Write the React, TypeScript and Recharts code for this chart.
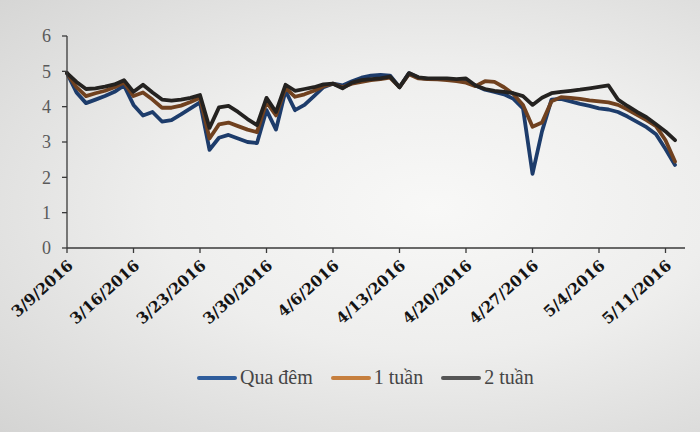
import * as React from "react";
import { Legend, Line, LineChart, XAxis, YAxis } from "recharts";

// daily points, 3/9/2016 .. 5/12/2016
const dates = [
  "3/9/2016", "3/10/2016", "3/11/2016", "3/12/2016", "3/13/2016", "3/14/2016", "3/15/2016",
  "3/16/2016", "3/17/2016", "3/18/2016", "3/19/2016", "3/20/2016", "3/21/2016", "3/22/2016",
  "3/23/2016", "3/24/2016", "3/25/2016", "3/26/2016", "3/27/2016", "3/28/2016", "3/29/2016",
  "3/30/2016", "3/31/2016", "4/1/2016", "4/2/2016", "4/3/2016", "4/4/2016", "4/5/2016",
  "4/6/2016", "4/7/2016", "4/8/2016", "4/9/2016", "4/10/2016", "4/11/2016", "4/12/2016",
  "4/13/2016", "4/14/2016", "4/15/2016", "4/16/2016", "4/17/2016", "4/18/2016", "4/19/2016",
  "4/20/2016", "4/21/2016", "4/22/2016", "4/23/2016", "4/24/2016", "4/25/2016", "4/26/2016",
  "4/27/2016", "4/28/2016", "4/29/2016", "4/30/2016", "5/1/2016", "5/2/2016", "5/3/2016",
  "5/4/2016", "5/5/2016", "5/6/2016", "5/7/2016", "5/8/2016", "5/9/2016", "5/10/2016",
  "5/11/2016", "5/12/2016",
];

const quaDem = [
  4.95, 4.4, 4.1, 4.2, 4.3, 4.42, 4.6,
  4.05, 3.75, 3.85, 3.58, 3.62, 3.78, 3.95,
  4.12, 2.78, 3.12, 3.2, 3.1, 3.0, 2.97,
  3.9, 3.35, 4.45, 3.9, 4.05, 4.3, 4.55,
  4.65, 4.6, 4.72, 4.82, 4.88, 4.9, 4.88,
  4.55, 4.95, 4.82, 4.78, 4.78, 4.78, 4.75,
  4.72, 4.6, 4.48, 4.42, 4.35, 4.22, 3.95,
  2.1, 3.3, 4.2, 4.22, 4.15, 4.08, 4.02,
  3.95, 3.92, 3.85, 3.72, 3.57, 3.42, 3.22,
  2.8, 2.35,
];

const motTuan = [
  4.95, 4.55, 4.3, 4.38, 4.45, 4.55, 4.68,
  4.3, 4.4, 4.2, 3.97, 3.97, 4.03, 4.13,
  4.25, 3.1, 3.5, 3.55, 3.45, 3.35, 3.28,
  4.13, 3.75, 4.53, 4.28, 4.35, 4.45, 4.58,
  4.65, 4.55, 4.65, 4.7, 4.75, 4.78, 4.82,
  4.55, 4.92, 4.8, 4.78, 4.77, 4.75, 4.72,
  4.68, 4.58, 4.72, 4.7, 4.55, 4.35, 4.05,
  3.43, 3.55, 4.15, 4.27, 4.25, 4.22, 4.18,
  4.15, 4.12, 4.05, 3.92, 3.77, 3.62, 3.45,
  3.05, 2.45,
];

const haiTuan = [
  4.95, 4.7, 4.5, 4.52, 4.57, 4.63, 4.75,
  4.42, 4.62, 4.4, 4.2, 4.17, 4.2, 4.25,
  4.33, 3.4, 3.98, 4.02, 3.85, 3.65, 3.48,
  4.25, 3.85, 4.62, 4.45, 4.5, 4.55, 4.63,
  4.65, 4.52, 4.68, 4.75, 4.78, 4.8, 4.85,
  4.55, 4.95, 4.83, 4.8, 4.8, 4.8, 4.78,
  4.8, 4.6, 4.5, 4.45, 4.42, 4.38, 4.3,
  4.05, 4.25, 4.38, 4.42, 4.45, 4.48, 4.52,
  4.56, 4.6, 4.2, 4.02, 3.85, 3.7, 3.5,
  3.3, 3.05,
];

const yTicks = [0, 1, 2, 3, 4, 5, 6];

const series = [
  { key: "quaDem", name: "Qua đêm", stroke: "#1d3c6b", legend: "#2f5d9c" },
  { key: "motTuan", name: "1 tuần", stroke: "#70411f", legend: "#c67f3e" },
  { key: "haiTuan", name: "2 tuần", stroke: "#242220", legend: "#555555" },
];

const data = dates.map((date, i) => ({
  date,
  quaDem: quaDem[i],
  motTuan: motTuan[i],
  haiTuan: haiTuan[i],
}));

function DateTick({ x = 0, y = 0, payload }: { x?: number; y?: number; payload?: { value: string } }) {
  const ax = x + 7;
  const ay = y + 12;
  return (
    <text
      x={ax}
      y={ay}
      transform={`rotate(-42 ${ax} ${ay})`}
      textAnchor="end"
      fontFamily="DejaVu Serif"
      fontWeight="bold"
      fontSize={15.5}
      fill="#141414"
    >
      {payload?.value}
    </text>
  );
}

function LegendRow() {
  return (
    <div style={{ display: "flex", gap: 18, fontFamily: "Liberation Serif", fontSize: 20, color: "#454545" }}>
      {series.map((s) => (
        <div key={s.key} style={{ display: "flex", alignItems: "center", gap: 3 }}>
          <span style={{ display: "inline-block", width: 40, height: 4, background: s.legend, borderRadius: 2 }} />
          <span>{s.name}</span>
        </div>
      ))}
    </div>
  );
}

export default function App() {
  return (
    <div
      style={{
        width: 700,
        height: 432,
        background:
          "radial-gradient(ellipse at 62% 48%, #f8f8f7 0%, #eeeeed 45%, #d4d4d3 100%)",
      }}
    >
      <style>{"body{margin:0}"}</style>
      <LineChart width={700} height={432} data={data} margin={{ top: 36, right: 15, left: 0, bottom: 124 }}>
        <XAxis
          dataKey="date"
          interval={6}
          height={60}
          padding={{ left: 0, right: 10 }}
          stroke="#3a3a3a"
          strokeWidth={1.3}
          tickSize={5}
          tick={<DateTick />}
        />
        <YAxis
          domain={[0, 6]}
          ticks={yTicks}
          width={67}
          stroke="#3a3a3a"
          strokeWidth={1.3}
          tickSize={5}
          tickMargin={11}
          tick={{ fontFamily: "Liberation Serif", fontSize: 18, fill: "#5a5a5a" }}
        />
        {series.map((s) => (
          <Line
            key={s.key}
            dataKey={s.key}
            name={s.name}
            type="linear"
            stroke={s.stroke}
            strokeWidth={3.8}
            strokeLinejoin="round"
            strokeLinecap="round"
            dot={false}
            activeDot={false}
            isAnimationActive={false}
          />
        ))}
        <Legend
          layout="horizontal"
          verticalAlign="middle"
          align="center"
          wrapperStyle={{ top: 366, left: 197, width: "auto" }}
          content={() => <LegendRow />}
        />
      </LineChart>
    </div>
  );
}
